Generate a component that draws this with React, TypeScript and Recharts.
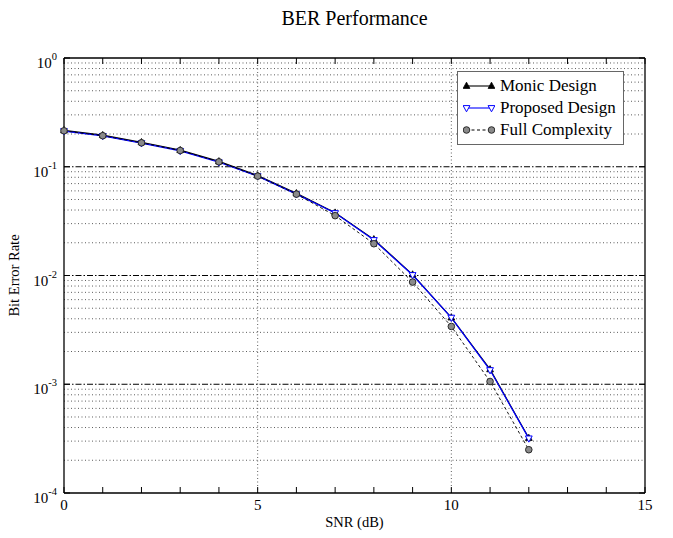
import React from 'react'
import {
	Legend,
	Line,
	LineChart,
	ReferenceLine,
	XAxis,
	YAxis,
} from 'recharts'

const FONT = '"Liberation Serif", "Times New Roman", serif'

// BER curves
const SNR_DB = [0, 1, 2, 3, 4, 5, 6, 7, 8, 9, 10, 11, 12]
const MONIC = [0.216, 0.195, 0.168, 0.142, 0.112, 0.083, 0.057, 0.0378, 0.0215, 0.0102, 0.0041, 0.00137, 0.00032]
const PROPOSED = [0.213, 0.192, 0.165, 0.14, 0.11, 0.082, 0.056, 0.0375, 0.0212, 0.0101, 0.0041, 0.00135, 0.000318]
const FULL = [0.214, 0.193, 0.166, 0.141, 0.111, 0.082, 0.056, 0.0355, 0.0196, 0.0087, 0.0034, 0.00106, 0.00025]

const X_TICKS = [0, 1, 2, 3, 4, 5, 6, 7, 8, 9, 10, 11, 12, 13, 14, 15]
const X_GRID = [5, 10]
const Y_DECADES = [1e-4, 1e-3, 1e-2, 1e-1, 1]
const Y_MAJOR_GRID = [1e-3, 1e-2, 1e-1]
const Y_MINOR_GRID = [1e-4, 1e-3, 1e-2, 1e-1].flatMap((d) =>
	[2, 3, 4, 5, 6, 7, 8, 9].map((m) => m * d),
)

const data = SNR_DB.map((snr, i) => ({
	snr,
	monic: MONIC[i],
	proposed: PROPOSED[i],
	full: FULL[i],
}))

type DotProps = { cx?: number; cy?: number }

const TriUp = ({ cx = 0, cy = 0 }: DotProps) => (
	<polygon
		points={`${cx},${cy - 3.8} ${cx - 3.4},${cy + 2.4} ${cx + 3.4},${cy + 2.4}`}
		fill="#000"
		stroke="#000"
		strokeWidth={0.8}
	/>
)

const TriDown = ({ cx = 0, cy = 0 }: DotProps) => (
	<polygon
		points={`${cx - 3.4},${cy - 2.4} ${cx + 3.4},${cy - 2.4} ${cx},${cy + 3.8}`}
		fill="#fff"
		stroke="#0000ff"
		strokeWidth={1}
	/>
)

const GrayDot = ({ cx = 0, cy = 0 }: DotProps) => (
	<circle cx={cx} cy={cy} r={3.3} fill="#8a8a8a" stroke="#2a2a2a" strokeWidth={1} />
)

const SERIES = [
	{ key: 'monic', name: 'Monic Design', color: '#000', dash: undefined, Dot: TriUp },
	{ key: 'proposed', name: 'Proposed Design', color: '#0000ff', dash: undefined, Dot: TriDown },
	{ key: 'full', name: 'Full Complexity', color: '#000', dash: '3 2.5', Dot: GrayDot },
]

// plot box edges (px), fixed by the chart margins below
const PLOT_TOP = 58
const PLOT_BOTTOM = 493
const PLOT_LEFT = 64
const PLOT_RIGHT = 645

const BottomTick = (props: any) => {
	const { x, payload } = props
	const v = payload.value
	return (
		<g>
			<line x1={x} x2={x} y1={PLOT_BOTTOM} y2={PLOT_BOTTOM - 6} stroke="#000" />
			{v % 5 === 0 && (
				<text x={x} y={PLOT_BOTTOM + 17} textAnchor="middle" fontSize={15} fontFamily={FONT} fill="#000">
					{v}
				</text>
			)}
		</g>
	)
}

const TopTick = (props: any) => {
	const { x } = props
	return <line x1={x} x2={x} y1={PLOT_TOP} y2={PLOT_TOP + 6} stroke="#000" />
}

const LeftTick = (props: any) => {
	const { y, payload } = props
	const exp = Math.round(Math.log10(payload.value))
	return (
		<g>
			<line x1={PLOT_LEFT} x2={PLOT_LEFT + 6} y1={y} y2={y} stroke="#000" />
			<text x={PLOT_LEFT - 7} y={y + 10} textAnchor="end" fontSize={15} fontFamily={FONT} fill="#000">
				<tspan>10</tspan>
				<tspan dy={-8} fontSize={10.5}>
					{exp}
				</tspan>
			</text>
		</g>
	)
}

const RightTick = (props: any) => {
	const { y } = props
	return <line x1={PLOT_RIGHT} x2={PLOT_RIGHT - 6} y1={y} y2={y} stroke="#000" />
}

const TitleLabel = () => (
	<text
		x={(PLOT_LEFT + PLOT_RIGHT) / 2}
		y={25}
		textAnchor="middle"
		fontSize={20}
		fontFamily={FONT}
		fill="#000"
	>
		BER Performance
	</text>
)

const XLabel = () => (
	<text
		x={(PLOT_LEFT + PLOT_RIGHT) / 2}
		y={PLOT_BOTTOM + 34}
		textAnchor="middle"
		fontSize={14.5}
		fontFamily={FONT}
		fill="#000"
	>
		SNR (dB)
	</text>
)

const YLabel = () => {
	const cx = 19
	const cy = (PLOT_TOP + PLOT_BOTTOM) / 2
	return (
		<text
			x={cx}
			y={cy}
			transform={`rotate(-90 ${cx} ${cy})`}
			textAnchor="middle"
			fontSize={14.5}
			fontFamily={FONT}
			fill="#000"
		>
			Bit Error Rate
		</text>
	)
}

const LegendBox = () => (
	<div
		style={{
			border: '1.5px solid #666',
			background: '#fff',
			padding: '3px 7px 3px 5px',
			fontFamily: FONT,
			fontSize: 17,
			lineHeight: '22px',
			color: '#000',
		}}
	>
		{SERIES.map((s) => (
			<div key={s.key} style={{ display: 'flex', alignItems: 'center', gap: 5 }}>
				<svg width={32} height={12}>
					<line x1={3} x2={29} y1={6} y2={6} stroke={s.color} strokeWidth={1.1} strokeDasharray={s.dash} />
					<s.Dot cx={3.5} cy={6} />
					<s.Dot cx={28.5} cy={6} />
				</svg>
				<span style={{ whiteSpace: 'nowrap' }}>{s.name}</span>
			</div>
		))}
	</div>
)

export default function App() {
	return (
		<div style={{ position: 'absolute', left: 0, top: 0, background: '#fff' }}>
			<LineChart
				width={673}
				height={538}
				data={data}
				margin={{ top: 57, right: 27, bottom: 44, left: 4 }}
			>
				{Y_MINOR_GRID.map((v) => (
					<ReferenceLine key={`m${v}`} y={v} stroke="#333" strokeWidth={0.8} strokeDasharray="1 2.5" />
				))}
				{Y_MAJOR_GRID.map((v) => (
					<ReferenceLine key={`M${v}`} y={v} stroke="#000" strokeWidth={1} strokeDasharray="6 2 1.5 2" />
				))}
				{X_GRID.map((v) => (
					<ReferenceLine key={`x${v}`} x={v} stroke="#333" strokeWidth={0.8} strokeDasharray="1 2.5" />
				))}
				<XAxis
					dataKey="snr"
					type="number"
					domain={[0, 15]}
					ticks={X_TICKS}
					interval={0}
					height={1}
					tickSize={0}
					tickMargin={0}
					tick={<BottomTick />}
					axisLine={false}
					label={{ content: <XLabel /> }}
				/>
				<XAxis
					xAxisId="top"
					orientation="top"
					dataKey="snr"
					type="number"
					domain={[0, 15]}
					ticks={X_TICKS}
					interval={0}
					height={1}
					tickSize={0}
					tickMargin={0}
					tick={<TopTick />}
					axisLine={false}
					label={{ content: <TitleLabel /> }}
				/>
				<YAxis
					scale="log"
					type="number"
					domain={[1e-4, 1]}
					allowDataOverflow
					ticks={Y_DECADES}
					interval={0}
					width={60}
					tickSize={0}
					tickMargin={0}
					tick={<LeftTick />}
					axisLine={false}
					label={{ content: <YLabel /> }}
				/>
				<YAxis
					yAxisId="right"
					orientation="right"
					scale="log"
					type="number"
					domain={[1e-4, 1]}
					allowDataOverflow
					ticks={Y_DECADES}
					interval={0}
					width={1}
					tickSize={0}
					tickMargin={0}
					tick={<RightTick />}
					axisLine={false}
				/>
				{/* plot frame */}
				<ReferenceLine y={1} stroke="#000" strokeWidth={1.3} />
				<ReferenceLine y={1e-4} stroke="#000" strokeWidth={1.3} />
				<ReferenceLine x={0} stroke="#000" strokeWidth={1.3} />
				<ReferenceLine x={15} stroke="#000" strokeWidth={1.3} />
				{SERIES.map((s) => (
					<Line
						key={s.key}
						dataKey={s.key}
						name={s.name}
						type="linear"
						stroke={s.color}
						strokeWidth={s.key === 'full' ? 0.9 : 1.2}
						strokeDasharray={s.dash}
						dot={<s.Dot />}
						activeDot={false}
						isAnimationActive={false}
					/>
				))}
				{/* vertical + center keeps the legend out of the plot offset calc */}
				<Legend
					layout="vertical"
					align="center"
					verticalAlign="middle"
					content={<LegendBox />}
					wrapperStyle={{ left: 457, top: 71, width: 'auto', transform: 'none' }}
				/>
			</LineChart>
		</div>
	)
}
